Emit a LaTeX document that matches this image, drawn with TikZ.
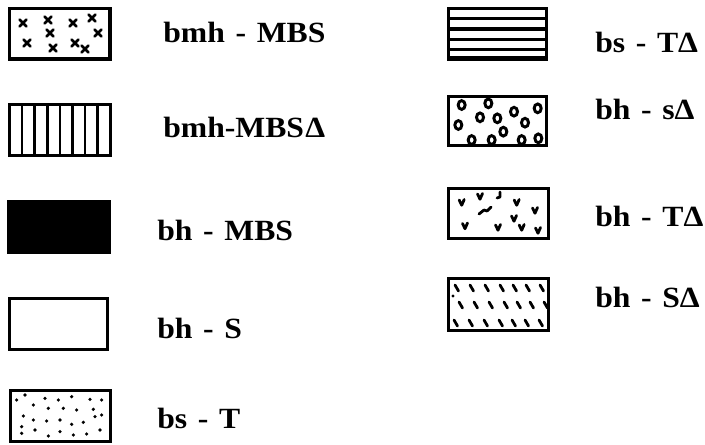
\documentclass[tikz,border=0pt]{standalone}
\usepackage{fontspec}
\newfontfamily\lblfont[FakeStretch=1.08]{Liberation Serif}
\newcommand\lblsetup{\lblfont\bfseries\fontsize{22}{24}\selectfont\spaceskip 8pt\relax}
\begin{document}
\begin{tikzpicture}[x=0.75pt,y=-0.75pt,
  legbox/.style={draw=black,line width=2.4pt,line join=miter},
  lbl/.style={anchor=base west,inner sep=0pt,font=\lblsetup},
  xmk/.style={line width=2.1pt,line cap=round},
  fine/.style={line width=1.9pt},
  drop/.style={line width=2.2pt},
  vmk/.style={line width=2.1pt,line cap=round,line join=round},
  dsh/.style={line width=2.1pt,line cap=round}]
\useasboundingbox (0,0) rectangle (705,444);
% ---- left column ----
% 1 crosses
\draw[legbox] (9.5,8.5) rectangle (110,59);
\foreach \px/\py in {23/23,48/20,50/33,73/23,92/18,98/33,27/43,53/48,75/43,85/49}{
  \draw[xmk] (\px-3.4,\py-3.4) -- (\px+3.4,\py+3.4) (\px-3.4,\py+3.4) -- (\px+3.4,\py-3.4);
}
\node[lbl] (t1) at (163,42) {bmh - MBS};
% 2 vertical lines
\draw[legbox] (9.5,104.5) rectangle (110.5,155.5);
\foreach \k in {1,...,7}{ \draw[fine] (9.5+12.6*\k,104.5) -- (9.5+12.6*\k,155.5); }
\node[lbl] (t2) at (163,137) {bmh-MBS\kern1pt Δ};
% 3 black
\draw[legbox,fill=black] (8.5,201.5) rectangle (109.5,252.5);
\node[lbl] (t3) at (157,240) {bh - MBS};
% 4 white
\draw[legbox] (9.5,298.5) rectangle (107.5,349.5);
\node[lbl] (t4) at (157,338) {bh - S};
% 5 dots
\draw[legbox] (10.5,390.5) rectangle (110.5,441.5);
\foreach \px/\py in {50/330,75/315,135/325,175/330,215/320,270/328,305/330,100/345,145/355,190/355,230/360,280/358,70/378,100/390,140/393,180/390,215/403,250/397,285/380,305/375,65/410,105/420,145/438,180/425,220/435,260/432,300/420,65/430}{
  \fill (\px/3,290+\py/3) circle [radius=1.8];
}
\node[lbl] (t5) at (157,428) {bs - T};
% ---- right column ----
% A horizontal lines
\draw[legbox] (448.5,8.5) rectangle (546.5,59.5);
\foreach \k in {1,...,4}{ \draw[line width=2.4pt] (448.5,8.5+10.2*\k) -- (546.5,8.5+10.2*\k); }
\draw[line width=1.5pt] (448.5,57) -- (546.5,57);
\node[lbl] (t6) at (595,52) {bs - TΔ};
% B droplets
\draw[legbox] (448.5,96.5) rectangle (546.5,145.5);
\foreach \px/\py in {65/45,145/40,222/65,293/55,120/82,172/85,255/98,55/105,190/125,95/150,155/150,245/150,295/145}{
  \draw[drop] (440+\px/3,90+\py/3) ellipse [x radius=3.5, y radius=4.4];
}
\node[lbl] (t7) at (595,119) {bh - sΔ};
% C v marks
\draw[legbox] (448.5,188.5) rectangle (548.5,238.5);
\foreach \px/\py in {461.7/203,480/197,516.7/203,535/211,465/226.5,498/228,514/219,521.7/228,538/231}{
  \draw[vmk] (\px-2.5,\py-3) -- (\px,\py+2.2) -- (\px+2.5,\py-3.5);
}
\draw[vmk] (500,192) -- (500,197) -- (497,198);
\draw[vmk] (479,214) -- (484,210) -- (487,211) -- (491,207);
\node[lbl] (t8) at (595,226) {bh - TΔ};
% D slanted dashes
\draw[legbox] (448.5,278.5) rectangle (548.5,330.5);
\foreach \px in {457,472,487,502,515,528,542}{
  \draw[dsh] (\px-2,285) -- (\px+1.5,291);
  \draw[dsh] (\px+2,302) -- (\px+5.5,308);
  \draw[dsh] (\px-3,320) -- (\px+0.5,326);
}
\fill (453,296) circle [radius=1.6];
\node[lbl] (t9) at (595,307) {bh - SΔ};
\end{tikzpicture}
\end{document}
